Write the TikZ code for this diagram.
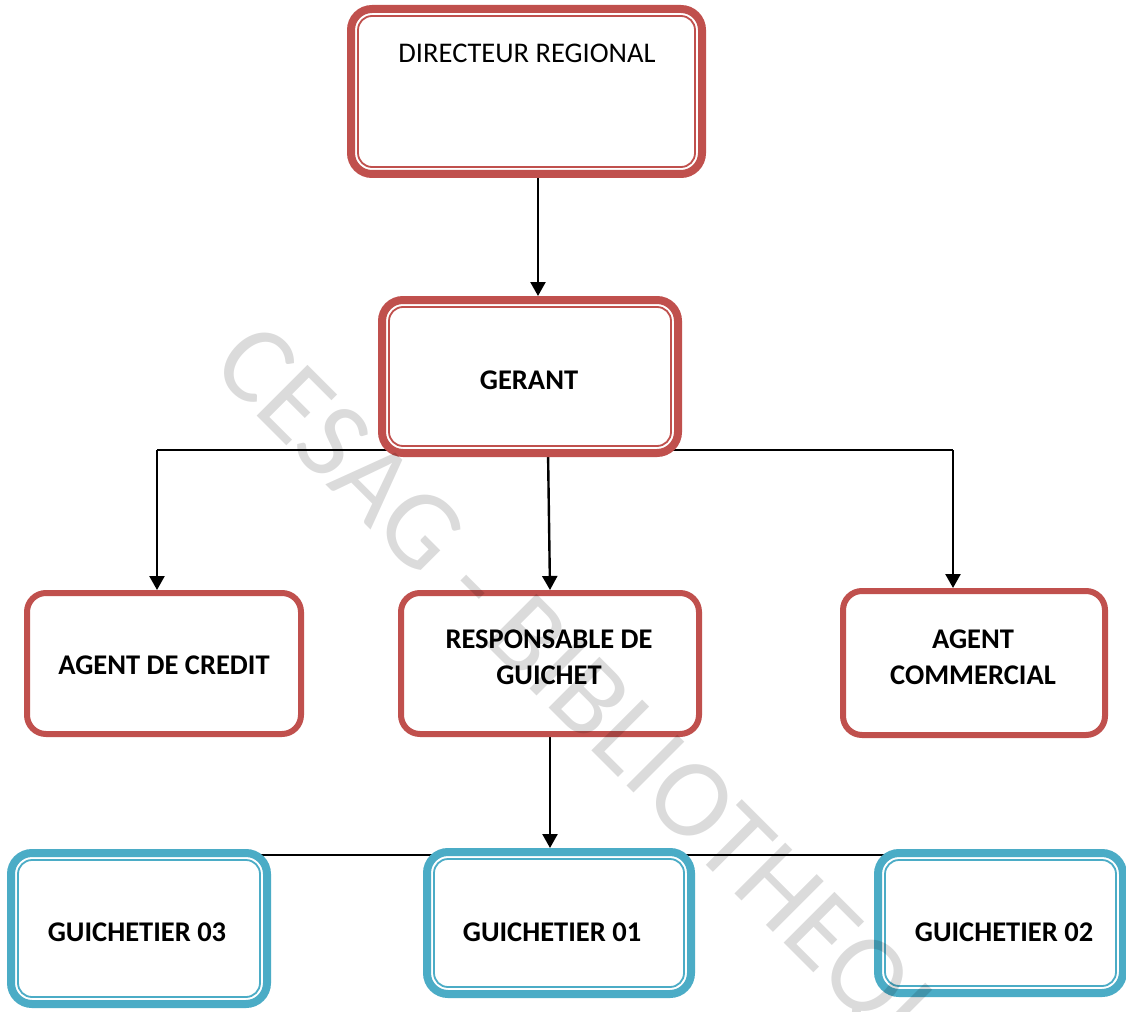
\documentclass[tikz,border=0pt]{standalone}
\usepackage{fontspec}
\setmainfont{Carlito}
\usetikzlibrary{arrows.meta,backgrounds}
\definecolor{boxred}{HTML}{C0504D}
\definecolor{boxblue}{HTML}{4BACC6}
\newcommand\innerframe[2]{\draw[#2, line width=1.8pt, rounded corners=14pt] ([xshift=11pt,yshift=-11pt]#1.north west) rectangle ([xshift=-11pt,yshift=11pt]#1.south east);}
\begin{document}
\begin{tikzpicture}[x=1pt,y=-1pt,
  thickred/.style={draw=boxred, fill=white, line width=8pt, rounded corners=21pt, inner sep=0pt},
  thinred/.style={draw=boxred, fill=white, line width=6pt, rounded corners=19pt, inner sep=0pt},
  thickblue/.style={draw=boxblue, fill=white, line width=8pt, rounded corners=21pt, inner sep=0pt},
  lbl/.style={font=\fontsize{28.5}{36}\selectfont, align=center, inner sep=0pt, text=black},
  blbl/.style={font=\fontsize{28.5}{36}\selectfont\bfseries, align=center, inner sep=0pt, text=black},
  orgarrow/.style={draw=black, line width=2.4pt, -{Triangle[width=15pt,length=14pt]}},
  busline/.style={draw=black, line width=1.8pt}]
\useasboundingbox (0,0) rectangle (1126,1011);
% boxes
\node[thickred, minimum width=351pt, minimum height=165pt] (dr) at (526.5,91.5) {};
\node[thickred, minimum width=296pt, minimum height=153pt] (ger) at (530,376.5) {};
\node[thinred, minimum width=274pt, minimum height=141pt] (acred) at (164,663.5) {};
\node[thinred, minimum width=298pt, minimum height=141pt] (resp) at (550,663.5) {};
\node[thinred, minimum width=262pt, minimum height=144pt] (acom) at (974,663) {};
\node[thickblue, minimum width=256pt, minimum height=151pt] (g3) at (139,928.5) {};
\node[thickblue, minimum width=264pt, minimum height=142pt] (g1) at (559,923) {};
\node[thickblue, minimum width=245pt, minimum height=140pt] (g2) at (1000.5,923) {};
\innerframe{dr}{boxred}
\innerframe{ger}{boxred}
\innerframe{g3}{boxblue}
\innerframe{g1}{boxblue}
\innerframe{g2}{boxblue}
% texts
\node[lbl] (drt) at (527,53) {DIRECTEUR REGIONAL};
\node[blbl] (gert) at (529,380) {GERANT};
\node[blbl] (acredt) at (164,665) {AGENT DE CREDIT};
\node[blbl] (respt) at (549,657) {RESPONSABLE DE\\GUICHET};
\node[blbl] (acomt) at (973,657) {AGENT\\COMMERCIAL};
\node[blbl] (g3t) at (137,932) {GUICHETIER 03};
\node[blbl] (g1t) at (552,932) {GUICHETIER 01};
\node[blbl] (g2t) at (1004,932) {GUICHETIER 02};
% connectors
\coordinate (bl) at (157,450);
\coordinate (br) at (953,450);
\coordinate (bm) at (548,450);
\coordinate (gl) at (260,855);
\coordinate (gr) at (885,855);
\begin{scope}[on background layer]
\fill[white] (0,0) rectangle (1126,1011);
\draw[orgarrow] ([xshift=11.5pt]dr.south) -- ([xshift=8pt]ger.north);
\draw[busline] (bl) -- (br);
\draw[orgarrow] (bl) -- (bl |- acred.north);
\draw[orgarrow] (br) -- (br |- acom.north);
\draw[orgarrow] (bm) -- (resp.north);
\draw[busline] (gl) -- (gr);
\draw[orgarrow] (resp.south) -- (resp.south |- g1.north);
\end{scope}
% watermark
\node[rotate=-45, anchor=base west, inner sep=0pt, font=\fontsize{112}{112}\selectfont, text=black, text opacity=0.14] (wm) at (209.5,368.5) {CESAG - BIBLIOTHEQUE};
\end{tikzpicture}
\end{document}
